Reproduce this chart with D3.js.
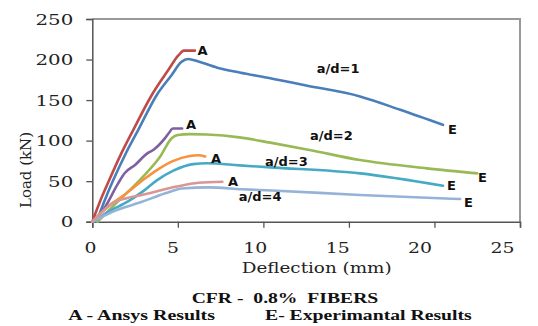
<!DOCTYPE html>
<html>
<head>
<meta charset="utf-8">
<script src="https://cdn.jsdelivr.net/npm/d3@7"></script>
<style>
  body { margin: 0; background: #fff; }
  svg { display: block; }
</style>
</head>
<body>
<div id="chart"></div>
<script>
// load-deflection data: [deflection mm, load kN]
const ansys1 = [[0,0],[0.45,25],[0.92,48],[1.6,80],[2.39,113],[3.47,156],[4.44,187],[5.03,205],[5.35,211],[6.0,211]];
const exp1 = [[0.25,0],[0.7,25],[1.22,51],[2.0,86],[2.68,113],[3.76,156],[4.64,181],[5.2,197],[5.6,200.7],[6.2,197.5],[7.3,190],[8.6,184],[10.4,177],[12.5,168],[15.65,154.5],[18,138],[20.5,119.4]];
const ansys2 = [[0,0],[0.74,18],[1.5,47],[1.9,60],[2.5,70],[3.2,84],[3.6,89],[4.25,103],[4.5,110],[4.7,115],[5.25,115]];
const exp2 = [[0.3,0],[1.5,25],[2.8,52],[3.96,80],[4.64,103],[5.0,107],[5.7,108],[6.7,107.5],[8.6,104],[10.4,97.5],[12.7,88.5],[15.65,76],[19.55,65.8],[22.5,59.6]];
const ansys3 = [[0,0],[0.9,18],[2.0,35],[3.0,52],[3.8,64],[4.74,75],[5.7,81],[6.2,82],[6.6,80.5]];
const exp3 = [[0.1,0],[0.92,12],[2.09,25],[3.0,38],[3.77,51],[4.74,63],[5.9,71],[6.7,72],[8.6,69.5],[10.4,67],[15.65,59.6],[20.5,44.3]];
const ansys4 = [[0,0],[0.57,12],[1.15,22.5],[2.0,29],[2.9,33],[4.86,43],[6.2,48],[7.6,49.3]];
const exp4 = [[0,0],[1.15,12],[2.9,24.5],[4.27,35],[5.25,41],[6.8,42.3],[8.75,40],[10.5,38.5],[15.65,33],[21.5,28]];

const xTicks = [0, 5, 10, 15, 20, 25];
const yTicks = [0, 50, 100, 150, 200, 250];
const ratioLabels = ['a/d=1', 'a/d=2', 'a/d=3', 'a/d=4'];

const W = 538, H = 326;
const svg = d3.select('#chart').append('svg').attr('width', W).attr('height', H);

const x = d3.scaleLinear().domain([0, 25]).range([92.3, 520]);
const y = d3.scaleLinear().domain([0, 250]).range([221.7, 19]);
// the tick numbers in the picture sit a little off their ticks
const xLab = d3.scaleLinear().domain([0, 25]).range([90, 502]);

const serif = 'DejaVu Serif, serif';
const bold = 'DejaVu Sans, Verdana, sans-serif';

// frame top/right
svg.append('path')
  .attr('d', `M${x(0)},${y(250)}H${x(25)}V${y(0)}`)
  .attr('fill', 'none').attr('stroke', '#999').attr('stroke-width', 2);

// axes
const gx = svg.append('g').attr('transform', `translate(0,${y(0)})`)
  .call(d3.axisBottom(x).tickValues(xTicks).tickSize(6).tickFormat(''));
gx.select('.domain').attr('stroke', '#555').attr('stroke-width', 1.5);
gx.selectAll('.tick line').attr('stroke', '#555').attr('stroke-width', 1.3);

const gxl = svg.append('g').attr('transform', `translate(0,252.7)`)
  .call(d3.axisBottom(xLab).tickValues(xTicks).tickSize(0).tickPadding(0));
gxl.select('.domain').remove();
gxl.selectAll('text')
  .attr('y', 0).attr('dy', 0)
  .attr('fill', '#222')
  .style('font-family', serif).style('font-size', '14px')
  .attr('textLength', d => String(d).length * 12)
  .attr('lengthAdjust', 'spacingAndGlyphs');

const gy = svg.append('g').attr('transform', `translate(${x(0)},0)`)
  .call(d3.axisLeft(y).tickValues(yTicks).tickSize(6).tickPadding(13));
gy.select('.domain').attr('stroke', '#555').attr('stroke-width', 1.5);
gy.selectAll('.tick line').attr('stroke', '#555').attr('stroke-width', 1.3);
gy.selectAll('text')
  .attr('fill', '#222')
  .attr('dy', '0.36em')
  .style('font-family', serif).style('font-size', '14px')
  .attr('textLength', d => String(d).length * 12.6)
  .attr('lengthAdjust', 'spacingAndGlyphs');

// axis titles
svg.append('text')
  .attr('x', 241.7).attr('y', 272.5)
  .attr('textLength', 150).attr('lengthAdjust', 'spacingAndGlyphs')
  .style('font-family', serif).style('font-size', '14px').attr('fill', '#222')
  .text('Deflection (mm)');

svg.append('text')
  .attr('transform', 'translate(31,208) rotate(-90)')
  .attr('textLength', 76).attr('lengthAdjust', 'spacingAndGlyphs')
  .style('font-family', serif).style('font-size', '14px').attr('fill', '#222')
  .text('Load (kN)');

// curves
const line = d3.line().x(d => x(d[0])).y(d => y(d[1])).curve(d3.curveMonotoneX);
const series = [
  {data: exp1, color: '#4A7EBB'},
  {data: ansys1, color: '#BE4B48'},
  {data: exp2, color: '#98B954'},
  {data: ansys2, color: '#7D60A0'},
  {data: exp3, color: '#46AAC5'},
  {data: ansys3, color: '#F69240'},
  {data: exp4, color: '#95B3D7'},
  {data: ansys4, color: '#DA9694'}
];
svg.append('g').selectAll('path')
  .data(series)
  .join('path')
  .attr('d', d => line(d.data))
  .attr('fill', 'none')
  .attr('stroke', d => d.color)
  .attr('stroke-width', 2.6)
  .attr('stroke-linejoin', 'round')
  .attr('stroke-linecap', 'round');

// labels on the curves
const labelAt = (t, px, py) => svg.append('text')
  .attr('x', px).attr('y', py)
  .style('font-family', bold).style('font-weight', 'bold').style('font-size', '13px')
  .attr('fill', '#111')
  .text(t);

labelAt(ratioLabels[0], 316.7, 73.3);
labelAt(ratioLabels[1], 310, 140);
labelAt(ratioLabels[2], 265, 166);
labelAt(ratioLabels[3], 238.7, 201);

labelAt('A', 197.5, 55);
labelAt('A', 186, 129.3);
labelAt('A', 211, 162.7);
labelAt('A', 228, 185.7);

labelAt('E', 448, 134.3);
labelAt('E', 478, 181.7);
labelAt('E', 447, 190);
labelAt('E', 464, 206.7);

// captions
const caption = (t, px, py, len) => svg.append('text')
  .attr('x', px).attr('y', py)
  .attr('textLength', len).attr('lengthAdjust', 'spacingAndGlyphs')
  .style('font-family', 'Liberation Serif, Times New Roman, serif')
  .style('font-weight', 'bold').style('font-size', '15px')
  .style('white-space', 'pre')
  .attr('fill', '#111')
  .text(t);

caption('CFR -  0.8%  FIBERS', 191.7, 302.7, 186.6);
caption('A - Ansys Results', 68.3, 320.3, 146.7);
caption('E- Experimantal Results', 265, 320.3, 206.7);
</script>
</body>
</html>
